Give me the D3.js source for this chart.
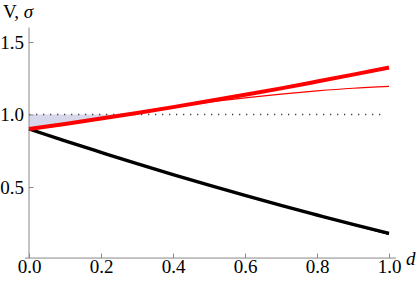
<!DOCTYPE html>
<html>
<head>
<meta charset="utf-8">
<script src="https://cdn.jsdelivr.net/npm/d3@7"></script>
<style>
  body { margin: 0; background: #fff; }
</style>
</head>
<body>
<div id="chart"></div>
<script>
// values
var dValues = [0, 0.1, 0.2, 0.3, 0.4, 0.5, 0.6, 0.7, 0.8, 0.9, 1.0];
var sigmaThick = [0.900, 0.935, 0.972, 1.011, 1.051, 1.093, 1.136, 1.180, 1.227, 1.275, 1.324];
var sigmaThin  = [0.900, 0.935, 0.972, 1.011, 1.049, 1.085, 1.115, 1.141, 1.163, 1.181, 1.194];
var vThick     = [0.900, 0.818, 0.739, 0.661, 0.586, 0.513, 0.442, 0.373, 0.307, 0.242, 0.180];
var vThin      = [0.900, 0.818, 0.739, 0.661, 0.586, 0.513, 0.442, 0.373, 0.305, 0.239, 0.174];
var refLevel = 1.0;
var xMajor = [0, 0.2, 0.4, 0.6, 0.8, 1.0];
var yMajor = [0.5, 1.0, 1.5];

var width = 417, height = 283;
var serif = '"Liberation Serif", "Times New Roman", serif';
var fontSize = '19px';

var x = d3.scaleLinear().domain([0, 1]).range([29, 389]);
var y = d3.scaleLinear().domain([0, 1.6]).range([259.5, 27.5]);
var xAxisAt = 0.01;

var svg = d3.select('#chart').append('svg')
            .attr('width', width)
            .attr('height', height);

var pts = function(ys) {
  return dValues.map(function(d, i) { return [d, ys[i]]; });
};

// shaded region between the level 1 line and sigma, while sigma < 1
var area = d3.area()
             .curve(d3.curveMonotoneX)
             .x(function(d) { return x(d[0]); })
             .y0(y(refLevel))
             .y1(function(d) { return y(Math.min(d[1], refLevel)); });
svg.append('path')
   .attr('d', area(pts(sigmaThick).filter(function(p) { return p[0] <= 0.3; })))
   .style('fill', 'rgb(216,216,236)');

// dotted level line
svg.append('line')
   .attr('x1', x(0)).attr('x2', x(1) - 3)
   .attr('y1', y(refLevel)).attr('y2', y(refLevel))
   .style('stroke', '#444')
   .style('stroke-width', 1.3)
   .style('stroke-dasharray', '1.3,5.7');

// axes
var xAxisG = svg.append('g').attr('transform', 'translate(0,' + y(xAxisAt) + ')');
var yAxisG = svg.append('g').attr('transform', 'translate(' + x(0) + ',0)');

xAxisG.call(d3.axisBottom(x).tickValues(d3.range(0, 1.0001, 0.05))
              .tickSizeInner(-2.5).tickSizeOuter(0).tickFormat(''));
xAxisG.call(d3.axisBottom(x).tickValues(xMajor)
              .tickSizeInner(-4.5).tickSizeOuter(0).tickPadding(1.5)
              .tickFormat(d3.format('.1f')));
yAxisG.call(d3.axisLeft(y).tickValues(d3.range(0.1, 1.6, 0.1))
              .tickSizeInner(-2.5).tickSizeOuter(0).tickFormat(''));
yAxisG.call(d3.axisLeft(y).tickValues(yMajor)
              .tickSizeInner(-4.5).tickSizeOuter(0).tickPadding(5)
              .tickFormat(d3.format('.1f')));

svg.selectAll('.domain').remove();
svg.selectAll('g').attr('font-family', serif).attr('font-size', 19);
svg.selectAll('.tick line').style('stroke', '#888').style('stroke-width', 1);
svg.selectAll('.tick text')
   .style('font-family', serif)
   .style('font-size', fontSize)
   .style('fill', '#000');

xAxisG.append('line').attr('x1', 25).attr('x2', 396)
      .attr('y1', 0).attr('y2', 0)
      .style('stroke', '#888');
yAxisG.append('line').attr('x1', 0).attr('x2', 0)
      .attr('y1', y(1.6)).attr('y2', y(xAxisAt))
      .style('stroke', '#888');

// curves
var line = d3.line()
             .curve(d3.curveMonotoneX)
             .x(function(d) { return x(d[0]); })
             .y(function(d) { return y(d[1]); });

var series = [
  { values: vThin, color: '#000', w: 1.3 },
  { values: vThick, color: '#000', w: 3.4 },
  { values: sigmaThick, color: '#ff0000', w: 4 },
  { values: sigmaThin, color: '#ff0000', w: 1.2 }
];

svg.selectAll('path.curve').data(series).enter()
   .append('path')
   .attr('class', 'curve')
   .attr('d', function(s) { return line(pts(s.values)); })
   .style('fill', 'none')
   .style('stroke', function(s) { return s.color; })
   .style('stroke-width', function(s) { return s.w; });

// axis labels
var yl = svg.append('text').attr('x', 3).attr('y', 17.5)
            .style('font-family', serif).style('font-size', fontSize);
yl.append('tspan').text('V, ');
yl.append('tspan').style('font-style', 'italic').text('σ');

svg.append('text').attr('x', 406).attr('y', 265)
   .style('font-family', serif)
   .style('font-size', fontSize).style('font-style', 'italic').text('d');
</script>
</body>
</html>
